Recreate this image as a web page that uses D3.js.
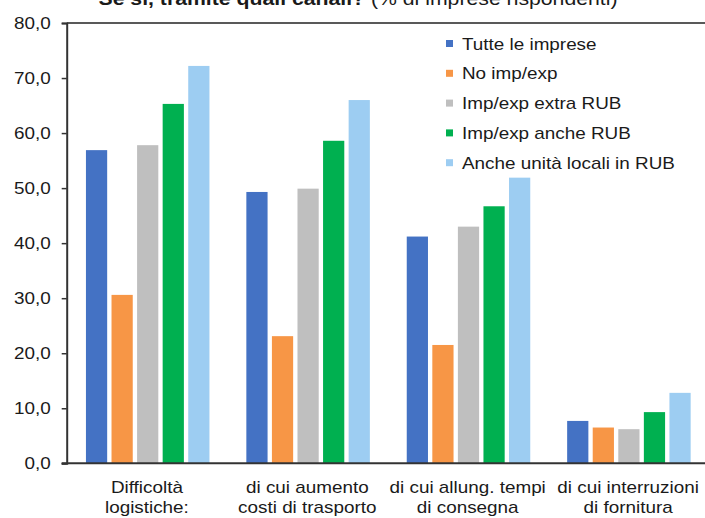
<!DOCTYPE html>
<html><head><meta charset="utf-8">
<script src="https://cdn.jsdelivr.net/npm/d3@7"></script>
<style>body{margin:0;background:#fff;} text{font-family:"Liberation Sans",Arial,sans-serif;}</style>
</head><body><svg id="c" width="705" height="518"></svg>
<script>
const categories = [["Difficoltà","logistiche:"],["di cui aumento","costi di trasporto"],["di cui allung. tempi","di consegna"],["di cui interruzioni","di fornitura"]];
const seriesNames = ["Tutte le imprese","No imp/exp","Imp/exp extra RUB","Imp/exp anche RUB","Anche unità locali in RUB"];
const colors = ["#4472C4","#F79646","#BFBFBF","#00B050","#9DCDF2"];
const tutte = [56.9, 49.3, 41.2, 7.7];
const noImpExp = [30.6, 23.1, 21.5, 6.5];
const extraRub = [57.8, 49.9, 43.0, 6.2];
const ancheRub = [65.3, 58.6, 46.7, 9.3];
const unitaLocali = [72.2, 66.0, 51.9, 12.8];
const yTicks = [0,10,20,30,40,50,60,70,80];
const values = [tutte, noImpExp, extraRub, ancheRub, unitaLocali];

const SX = 1.18;
const svg = d3.select("#c");
const mLeft = 66.7, mRight = 708.3, mTop = 23, mBottom = 463.3;
const x0 = d3.scaleBand().domain(d3.range(categories.length)).range([mLeft, mRight]).padding(0);
const bw = x0.bandwidth();
const x1 = d3.scaleBand().domain(d3.range(seriesNames.length)).range([bw*0.12, bw*0.89]).paddingInner(0.17);
const y = d3.scaleLinear().domain([0,80]).range([mBottom, mTop]);

// title (partly clipped at top)
const t = svg.append("text").attr("transform", `translate(358,5) scale(${SX},1)`).attr("text-anchor","middle").attr("font-size",18).attr("fill","#1a1a1a");
t.append("tspan").attr("font-weight","bold").text("Se sì, tramite quali canali? ");
t.append("tspan").text("(% di imprese rispondenti)");

// top frame line
svg.append("line").attr("x1", mLeft).attr("x2", 705).attr("y1", y(80)).attr("y2", y(80)).attr("stroke","#595959").attr("stroke-width",2);

// bars
values.forEach((vals, si) => {
  svg.append("g").selectAll("rect").data(vals).join("rect")
    .attr("x", (d,i) => x0(i) + x1(si))
    .attr("width", x1.bandwidth())
    .attr("y", d => y(d))
    .attr("height", d => y(0) - y(d))
    .attr("fill", colors[si]);
});

// y axis
const ya = svg.append("g").attr("transform", `translate(${mLeft},0)`)
  .call(d3.axisLeft(y).tickValues(yTicks).tickSize(5).tickPadding(12).tickFormat(d => d3.format(".1f")(d).replace(".",",")));
ya.select(".domain").attr("stroke","#333").attr("stroke-width",2);
ya.selectAll(".tick line").attr("stroke","#333").attr("stroke-width",1.5);
ya.selectAll("text").attr("font-size",16).attr("fill","#1a1a1a").attr("font-family","Liberation Sans, Arial, sans-serif")
  .attr("x", -16/SX).attr("transform", `scale(${SX},1)`);

// x axis line
svg.append("line").attr("x1", mLeft-5).attr("x2", 705).attr("y1", y(0)).attr("y2", y(0)).attr("stroke","#333").attr("stroke-width",2);

// category labels
const cl = svg.append("g").selectAll("text").data(categories).join("text")
  .attr("transform", (d,i) => `translate(${x0(i) + bw/2},493) scale(${SX},1)`)
  .attr("text-anchor","middle").attr("font-size",16).attr("fill","#1a1a1a");
cl.selectAll("tspan").data(d => d).join("tspan").attr("x", 0)
  .attr("dy", (d,i) => i === 0 ? 0 : 20).text(d => d);

// legend
const lg = svg.append("g").selectAll("g").data(seriesNames).join("g")
  .attr("transform", (d,i) => `translate(446, ${44 + i*29.8})`);
lg.append("rect").attr("x",0).attr("y",-4).attr("width",7).attr("height",7).attr("fill",(d,i)=>colors[i]);
lg.append("text").attr("transform", `translate(16,5.5) scale(${SX},1)`).attr("font-size",16).attr("fill","#1a1a1a").text(d => d);
</script></body></html>
